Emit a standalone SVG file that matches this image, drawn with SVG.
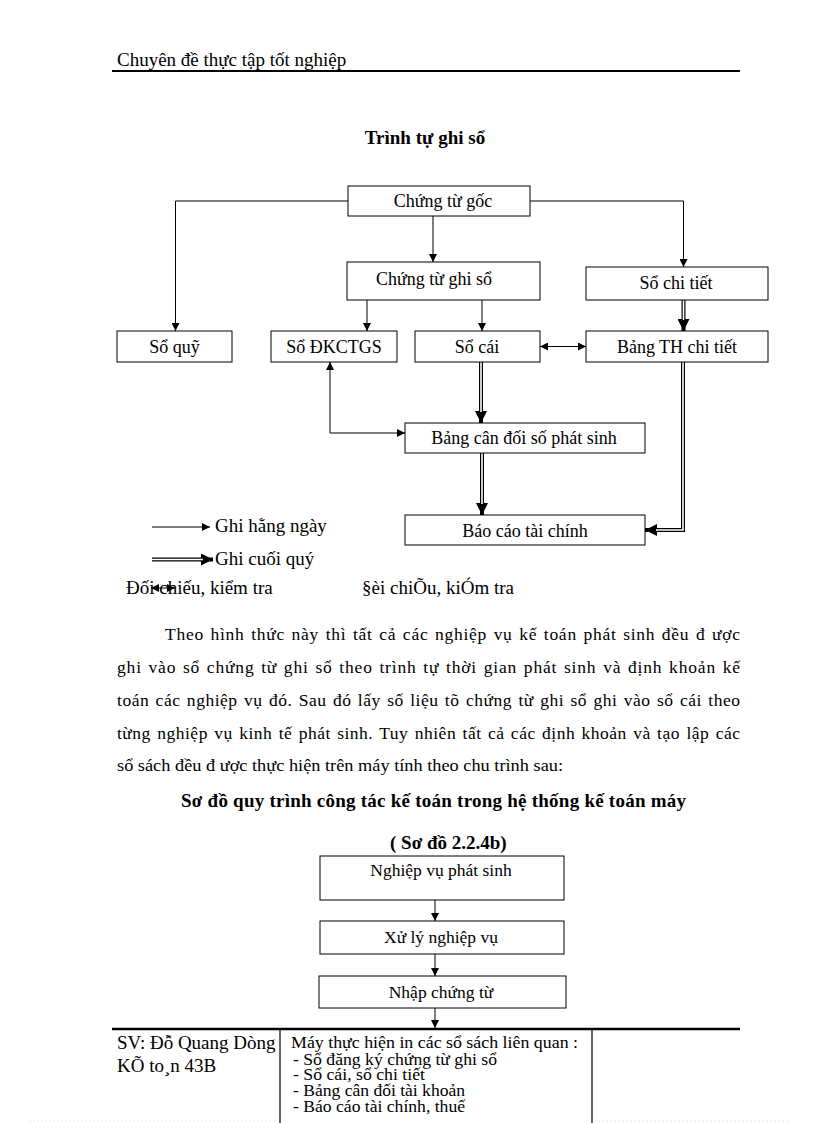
<svg xmlns="http://www.w3.org/2000/svg" width="816" height="1123" viewBox="0 0 816 1123">
<style>
text{font-family:"Liberation Serif","Times New Roman",serif;fill:#000}
.t{font-size:18px}
.c{text-anchor:middle}
.b{font-weight:bold}
.box{fill:#fff;stroke:#000;stroke-width:1}
.ln{fill:none;stroke:#000;stroke-width:1}
.dbl{fill:none;stroke:#000;stroke-width:4}
.dw{fill:none;stroke:#fff;stroke-width:1.6}
.p{font-size:19px}
.q{font-size:17.5px;word-spacing:1.5px}
.s{font-size:17.5px}
.m{font-size:16px}
</style>
<defs>
<marker id="a" markerUnits="userSpaceOnUse" markerWidth="8" markerHeight="8" refX="8" refY="4" orient="auto-start-reverse"><path d="M0,0 L8,4 L0,8 z" fill="#000"/></marker>
<marker id="A" markerUnits="userSpaceOnUse" markerWidth="12" markerHeight="12" refX="12" refY="6" orient="auto-start-reverse"><path d="M0,0 L12,6 L0,12 z" fill="#000"/></marker>
</defs>
<rect width="816" height="1123" fill="#fff"/>
<g id="header">
<text x="117" y="66" class="p">Chuyên đề thực tập tốt nghiệp</text>
<line x1="112" y1="71" x2="740" y2="71" stroke="#000" stroke-width="2"/>
</g>
<text x="425" y="144" class="p c b">Trình tự ghi sổ</text>
<g id="connectors">
<path class="ln" d="M348,201 H175.5 V331" marker-end="url(#a)"/>
<path class="ln" d="M433,216 V262" marker-end="url(#a)"/>
<path class="ln" d="M530,201 H683.5 V267" marker-end="url(#a)"/>
<path class="ln" d="M367,300 V331" marker-end="url(#a)"/>
<path class="ln" d="M482,300 V331" marker-end="url(#a)"/>
<path class="ln" d="M540,346.5 H586" marker-start="url(#a)" marker-end="url(#a)"/>
<path class="ln" d="M330,362 V433 H405" marker-start="url(#a)" marker-end="url(#a)"/>
<path class="dbl" d="M683.5,300 V331" marker-end="url(#A)"/>
<path class="dw" d="M683.5,300 V320"/>
<path class="dbl" d="M481,362 V423" marker-end="url(#A)"/>
<path class="dw" d="M481,362 V412"/>
<path class="dbl" d="M482,453 V515" marker-end="url(#A)"/>
<path class="dw" d="M482,453 V504"/>
<path class="dbl" d="M683,362 V530 H645" marker-end="url(#A)"/>
<path class="dw" d="M683,362 V530 H656"/>
<path class="ln" d="M435,900 V921" marker-end="url(#a)"/>
<path class="ln" d="M435,954 V976" marker-end="url(#a)"/>
<path class="ln" d="M435,1008 V1028" marker-end="url(#a)"/>
</g>
<g id="n-chungtugoc"><rect class="box" x="348" y="186" width="182" height="30"/><text x="443" y="207" class="t c">Chứng từ gốc</text></g>
<g id="n-chungtughiso"><rect class="box" x="347" y="262" width="193" height="38"/><text x="434" y="285" class="t c">Chứng từ ghi sổ</text></g>
<g id="n-sochitiet"><rect class="box" x="586" y="267" width="182" height="33"/><text x="676" y="289" class="t c">Sổ chi tiết</text></g>
<g id="n-soquy"><rect class="box" x="117" y="331" width="115" height="31"/><text x="174.5" y="353" class="t c">Sổ quỹ</text></g>
<g id="n-sodkctgs"><rect class="box" x="271" y="331" width="126" height="31"/><text x="334" y="353" class="t c">Sổ ĐKCTGS</text></g>
<g id="n-socai"><rect class="box" x="415" y="331" width="125" height="31"/><text x="477" y="353" class="t c">Sổ cái</text></g>
<g id="n-bangth"><rect class="box" x="586" y="331" width="182" height="31"/><text x="677" y="353" class="t c">Bảng TH chi tiết</text></g>
<g id="n-bangcandoi"><rect class="box" x="405" y="423" width="240" height="30"/><text x="524" y="444" class="t c">Bảng cân đối số phát sinh</text></g>
<g id="n-baocao"><rect class="box" x="405" y="515" width="240" height="30"/><text x="525" y="537" class="t c">Báo cáo tài chính</text></g>
<g id="legend">
<path class="ln" d="M152,527 H210" marker-end="url(#a)"/>
<text x="215" y="532" class="p">Ghi hằng ngày</text>
<path class="dbl" d="M152,559.5 H213" marker-end="url(#A)"/>
<path class="dw" d="M152,559.5 H203"/>
<text x="215" y="565" class="p">Ghi cuối quý</text>
<text x="126" y="594" class="p">Đối chiếu, kiểm tra</text>
<path class="ln" d="M151,588 H175" marker-start="url(#a)" marker-end="url(#a)"/>
<text x="362" y="594" class="p">§èi chiÕu, kiÓm tra</text>
</g>
<g id="paragraph" xml:space="preserve">
<text x="165" y="640" class="q" textLength="575" lengthAdjust="spacing">Theo hình thức này thì tất cả các nghiệp vụ kế toán phát sinh đều đ  ược</text>
<text x="117" y="673" class="q" textLength="623" lengthAdjust="spacing">ghi vào sổ chứng từ ghi sổ theo trình tự thời gian phát sinh và định khoản kế</text>
<text x="117" y="706" class="q" textLength="623" lengthAdjust="spacing">toán các nghiệp vụ đó. Sau đó lấy số liệu tõ chứng từ ghi sổ ghi vào sổ cái theo</text>
<text x="117" y="739" class="q" textLength="623" lengthAdjust="spacing">từng nghiệp vụ kinh tế phát sinh. Tuy nhiên tất cả các định khoản và tạo lập các</text>
<text x="117" y="771" class="q" style="word-spacing:0" textLength="446" lengthAdjust="spacingAndGlyphs">sổ sách đều đ  ược thực hiện trên máy tính theo chu trình sau:</text>
</g>
<text x="181" y="807" class="p b" textLength="505" lengthAdjust="spacing">Sơ đồ quy trình công tác kế toán trong hệ thống kế toán máy</text>
<text x="390" y="849" class="p b">( Sơ đồ 2.2.4b)</text>
<g id="n-nghiepvu"><rect class="box" x="320" y="856" width="244" height="44"/><text x="441" y="876" class="s c">Nghiệp vụ phát sinh</text></g>
<g id="n-xuly"><rect class="box" x="320" y="921" width="244" height="33"/><text x="441" y="943" class="s c">Xử lý nghiệp vụ</text></g>
<g id="n-nhap"><rect class="box" x="319" y="976" width="247" height="32"/><text x="441" y="998" class="s c">Nhập chứng từ</text></g>
<g id="footer">
<line x1="112" y1="1029" x2="740" y2="1029" stroke="#000" stroke-width="2.5"/>
<line x1="280" y1="1030" x2="280" y2="1123" stroke="#000" stroke-width="1.2"/>
<line x1="592" y1="1030" x2="592" y2="1123" stroke="#000" stroke-width="1.2"/>
<text x="117" y="1049" class="p">SV: Đỗ Quang Dòng</text>
<text x="117" y="1072" class="p">KÕ to¸n 43B</text>
<text x="291" y="1048" class="m" textLength="287" lengthAdjust="spacingAndGlyphs">Máy thực hiện in các sổ sách liên quan :</text>
<text x="293" y="1065" class="m" textLength="204" lengthAdjust="spacingAndGlyphs">- Sổ đăng ký chứng từ ghi sổ</text>
<text x="293" y="1080" class="m" textLength="132" lengthAdjust="spacingAndGlyphs">- Sổ cái, sổ chi tiết</text>
<text x="293" y="1096" class="m" textLength="172" lengthAdjust="spacingAndGlyphs">- Bảng cân đối tài khoản</text>
<text x="293" y="1112" class="m" textLength="172" lengthAdjust="spacingAndGlyphs">- Báo cáo tài chính, thuế</text>
<line x1="30" y1="1121" x2="278" y2="1121" stroke="#b8e6b8" stroke-dasharray="1,3"/>
<line x1="595" y1="1121" x2="790" y2="1121" stroke="#b8e6b8" stroke-dasharray="1,3"/>
</g>
</svg>
